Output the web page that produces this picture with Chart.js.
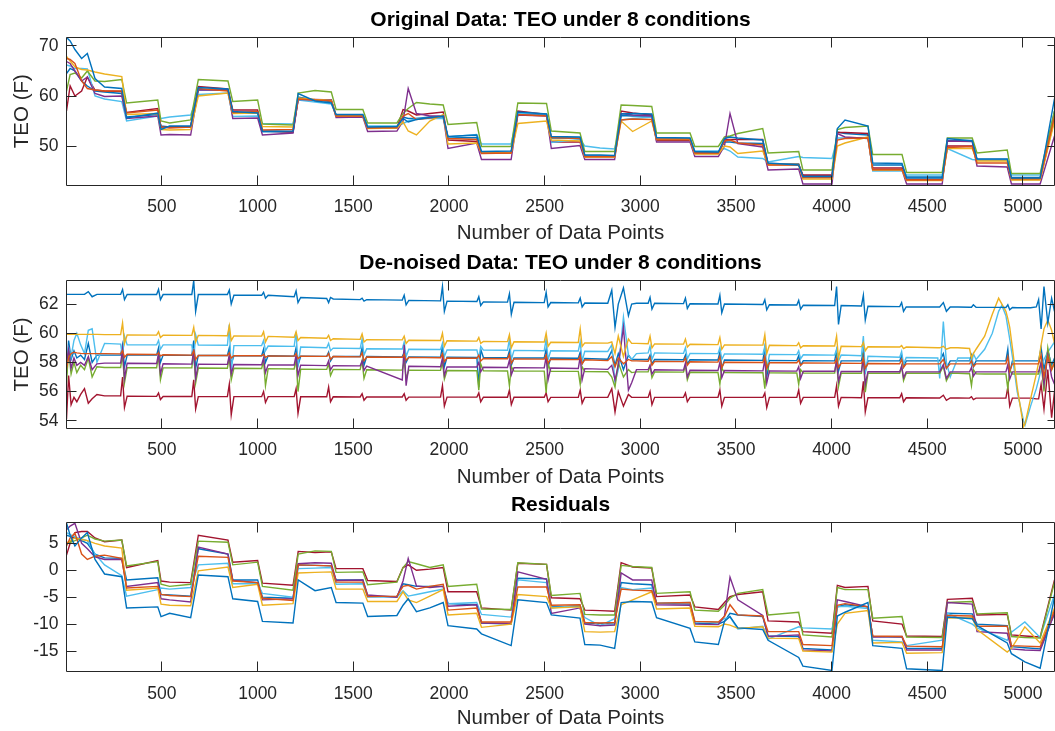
<!DOCTYPE html>
<html>
<head>
<meta charset="utf-8">
<script src="https://cdn.jsdelivr.net/npm/chart.js@4.4.1/dist/chart.umd.min.js"></script>
<style>
  body { margin: 0; background: #fff; width: 1055px; height: 731px; overflow: hidden; }
  canvas { position: absolute; left: 0; }
</style>
</head>
<body>
<canvas id="origChart" width="1055" height="246" style="top:0"></canvas>
<canvas id="denChart" width="1055" height="244" style="top:246px"></canvas>
<canvas id="resChart" width="1055" height="241" style="top:490px"></canvas>
<script>
// Tick labels
const xTicks = [500, 1000, 1500, 2000, 2500, 3000, 3500, 4000, 4500, 5000];
const yTicksOrig = [50, 60, 70];
const yTicksDen = [54, 56, 58, 60, 62];
const yTicksRes = [-15, -10, -5, 0, 5];

// Sample positions (data point index) for the original data and residuals
const xOrig = [1, 20, 45, 80, 110, 150, 200, 290, 315, 478, 495, 540, 650, 690, 845, 870, 1000, 1025, 1185,
  1212, 1300, 1385, 1410, 1550, 1575, 1728, 1760, 1787, 1830, 1900, 1970, 1995, 2145, 2170, 2325, 2360, 2510,
  2535, 2685, 2710, 2790, 2866, 2900, 2960, 3060, 3085, 3260, 3285, 3408, 3440, 3469, 3510, 3640, 3668, 3828,
  3850, 4002, 4030, 4070, 4190, 4215, 4368, 4392, 4578, 4605, 4735, 4760, 4918, 4940, 5010, 5090, 5165];

// Original data, 8 conditions
const origBlue = [71.7, 71.0, 69.3, 67.5, 68.5, 63.5, 61.8, 61.5, 55.6, 56.6, 53.3, 54.0, 54.0, 61.7, 61.4, 56.9, 56.6,
  52.9, 53.0, 60.5, 59.0, 58.6, 56.3, 56.3, 53.8, 53.9, 55.5, 54.8, 55.3, 55.7, 56.0, 51.9, 52.2, 48.9, 49.0, 56.8, 56.4,
  51.9, 51.8, 48.2, 48.2, 48.1, 56.4, 56.5, 56.4, 51.7, 51.6, 48.9, 48.8, 51.5, 51.8, 51.6, 51.2, 46.6, 46.2, 43.9, 43.9,
  53.5, 55.2, 54.0, 46.6, 46.5, 43.6, 43.6, 51.5, 51.0, 47.4, 47.4, 43.6, 43.6, 43.6, 59.5];
const origOrange = [67.5, 67.3, 66.5, 63.0, 61.5, 61.2, 61.0, 61.0, 56.6, 57.2, 53.8, 53.6, 53.8, 61.5, 61.0, 56.7, 56.9,
  53.2, 53.3, 59.4, 59.2, 59.0, 56.0, 56.0, 53.6, 53.7, 56.0, 56.5, 55.3, 55.6, 56.0, 51.5, 51.3, 48.5, 48.6, 56.3, 56.0,
  51.7, 51.5, 47.9, 47.9, 47.9, 55.2, 55.4, 55.3, 51.4, 51.4, 48.6, 48.6, 51.0, 51.2, 50.6, 50.2, 46.2, 46.2, 43.7, 43.7,
  51.2, 51.5, 51.6, 45.3, 45.3, 43.2, 43.2, 49.7, 49.9, 46.6, 46.6, 43.5, 43.5, 43.5, 56.0];
const origYellow = [67.9, 67.0, 65.8, 65.3, 65.2, 64.8, 64.4, 63.9, 56.3, 56.5, 53.3, 53.2, 53.3, 60.0, 60.6, 56.5, 56.6,
  53.9, 53.8, 59.6, 59.3, 59.1, 56.0, 56.0, 53.5, 53.6, 54.8, 53.0, 52.2, 55.0, 56.3, 50.4, 50.6, 48.6, 48.6, 54.5, 55.0,
  51.2, 51.0, 47.8, 47.8, 47.8, 55.0, 52.9, 55.0, 51.3, 51.3, 48.4, 48.4, 50.0, 49.8, 48.5, 49.0, 46.3, 46.3, 43.4, 43.4,
  50.0, 50.6, 51.8, 45.2, 45.2, 43.1, 43.1, 49.5, 49.5, 47.0, 47.0, 43.2, 43.2, 43.2, 55.0];
const origPurple = [66.9, 66.5, 65.0, 63.0, 63.8, 60.5, 59.9, 60.0, 55.5, 56.0, 52.2, 52.3, 52.2, 61.2, 61.2, 55.5, 55.6,
  52.2, 52.6, 59.3, 59.3, 59.2, 55.7, 55.8, 52.9, 53.0, 55.0, 61.5, 56.5, 56.0, 56.0, 49.5, 50.6, 47.3, 47.3, 56.2, 56.0,
  49.5, 50.1, 47.3, 47.3, 47.3, 56.5, 56.2, 56.0, 50.8, 50.8, 47.9, 47.9, 50.0, 56.5, 50.5, 49.8, 45.2, 45.4, 42.4, 42.4,
  52.5, 51.8, 51.5, 45.2, 45.2, 42.4, 42.4, 51.0, 50.9, 46.0, 45.8, 42.4, 42.4, 42.4, 52.0];
const origGreen = [61.0, 64.3, 64.6, 63.6, 65.0, 63.0, 62.9, 63.3, 58.6, 59.2, 55.0, 54.6, 55.2, 63.3, 63.0, 58.9, 59.2,
  54.4, 54.2, 60.6, 61.1, 60.8, 57.3, 57.3, 54.6, 54.6, 56.5, 57.5, 58.7, 58.4, 58.2, 54.3, 54.7, 49.9, 49.9, 58.6, 58.5,
  53.0, 52.6, 48.9, 48.9, 48.9, 58.2, 58.1, 57.9, 52.6, 52.6, 49.9, 49.9, 51.8, 52.0, 52.5, 53.5, 48.6, 48.9, 45.2, 45.2,
  53.3, 53.7, 54.0, 48.3, 48.3, 44.7, 44.7, 51.6, 51.6, 48.6, 49.2, 44.5, 44.5, 44.5, 57.0];
const origCyan = [66.2, 66.0, 65.5, 65.5, 65.4, 60.0, 59.4, 58.9, 55.0, 56.0, 55.5, 55.8, 56.2, 60.3, 60.6, 55.9, 56.0,
  54.5, 54.4, 59.2, 58.8, 58.4, 56.2, 56.2, 54.0, 54.0, 54.5, 55.0, 55.5, 55.5, 55.5, 51.8, 52.3, 50.4, 50.4, 56.6, 56.4,
  50.7, 51.3, 50.0, 49.6, 49.4, 55.2, 55.5, 55.8, 51.5, 51.5, 49.0, 49.0, 49.5, 49.0, 47.8, 47.5, 46.8, 47.9, 47.7, 47.5,
  51.6, 51.6, 51.7, 45.0, 45.0, 44.2, 44.2, 49.5, 47.3, 47.2, 47.2, 44.2, 44.2, 44.2, 56.0];
const origRed = [57.0, 62.0, 60.0, 61.0, 63.8, 61.2, 61.0, 60.9, 56.7, 57.5, 53.7, 53.8, 53.9, 61.9, 61.4, 57.2, 57.2,
  53.0, 52.8, 59.3, 59.2, 59.2, 56.1, 56.1, 53.6, 53.6, 57.3, 57.0, 56.2, 56.5, 56.8, 51.2, 50.9, 48.6, 48.6, 57.0, 56.3,
  50.8, 50.8, 47.8, 47.8, 47.8, 57.0, 56.6, 56.2, 51.1, 51.1, 48.5, 48.5, 51.2, 51.3, 51.3, 51.3, 46.3, 46.3, 44.2, 44.2,
  52.7, 52.7, 52.5, 45.6, 45.6, 43.3, 43.3, 50.0, 50.0, 47.2, 47.2, 43.3, 43.3, 43.3, 55.5];
const origBlue2 = [64.5, 65.5, 65.0, 63.0, 62.0, 61.0, 60.8, 60.5, 55.8, 56.3, 54.0, 53.8, 53.8, 61.3, 61.2, 56.6, 56.8,
  52.9, 52.8, 59.8, 59.2, 58.9, 56.1, 56.1, 53.7, 53.7, 55.8, 55.5, 55.5, 55.8, 55.8, 51.6, 51.7, 48.7, 48.7, 56.5, 56.3,
  51.6, 51.6, 48.0, 48.0, 48.0, 56.1, 56.0, 56.0, 51.5, 51.5, 48.7, 48.7, 50.8, 50.8, 50.6, 50.5, 46.4, 46.4, 44.0, 44.0,
  52.8, 52.5, 52.2, 46.2, 46.2, 43.8, 43.8, 51.1, 51.1, 47.3, 47.3, 43.7, 43.7, 43.7, 57.0];

// Sample positions for the de-noised data (around each ringing spike)
const xDen = [1, 12, 25, 40, 55, 75, 95, 115, 135, 160, 200,
  284, 294, 304, 318, 472, 482, 492, 506, 656, 666, 676, 690, 842, 852, 862, 876,
  1021, 1031, 1041, 1055, 1191, 1201, 1211, 1225, 1361, 1371, 1381, 1395, 1536, 1546, 1556, 1570,
  1756, 1766, 1776, 1790, 1956, 1966, 1976, 1990, 2146, 2156, 2166, 2180, 2306, 2316, 2326, 2340,
  2498, 2508, 2518, 2532, 2676, 2686, 2696, 2710,
  2830, 2851, 2868, 2885, 2912, 2938, 2955, 2980,
  3041, 3051, 3061, 3075, 3226, 3236, 3246, 3260, 3406, 3416, 3426, 3440, 3641, 3651, 3661, 3675,
  3818, 3828, 3838, 3852, 4016, 4026, 4036, 4050, 4156, 4166, 4176, 4190, 4356, 4366, 4376, 4390,
  4555, 4565, 4584, 4600, 4620, 4660, 4721, 4731, 4741, 4755, 4800, 4840, 4873, 4890,
  4911, 4921, 4931, 4945, 4970, 5003, 5011, 5040, 5070, 5082, 5095, 5110, 5130, 5150, 5165];

const denBlue = [62.66, 62.66, 62.66, 62.66, 62.66, 62.66, 62.66, 62.85, 62.5, 62.66, 62.66,
  62.66, 63.0, 62.3, 62.66, 62.65, 63.0, 62.3, 62.65, 62.65, 63.6, 61.5, 62.65, 62.65, 62.95, 62.0, 62.6,
  62.6, 62.8, 62.4, 62.6, 62.5, 62.9, 62.1, 62.45, 62.38, 62.1, 62.45, 62.35, 62.3, 62.4, 62.2, 62.3,
  62.27, 62.6, 61.95, 62.25, 62.22, 63.2, 61.5, 62.2, 62.17, 62.5, 61.9, 62.15, 62.13, 62.7, 61.3, 62.12,
  62.1, 62.8, 61.8, 62.1, 62.08, 62.4, 61.8, 62.07,
  62.05, 62.95, 60.4, 62.0, 63.1, 61.2, 62.0, 62.05,
  62.05, 62.45, 61.65, 62.05, 62.03, 62.4, 61.7, 62.02, 62.0, 62.6, 61.4, 62.0, 61.97, 62.3, 61.6, 61.95,
  61.93, 62.25, 61.65, 61.92, 61.9, 63.2, 60.6, 61.9, 61.87, 62.6, 60.9, 61.85, 61.82, 62.1, 61.5, 61.8,
  61.8, 61.8, 62.1, 61.5, 61.8, 61.8, 61.78, 61.78, 61.95, 61.78, 61.77, 61.77, 61.77, 61.77,
  61.76, 61.95, 61.6, 61.76, 61.75, 61.75, 61.75, 61.75, 61.8, 62.3, 60.3, 63.2, 60.7, 62.4, 61.5];
const denOrange = [57.6, 58.3, 58.6, 58.7, 58.65, 58.62, 58.6, 58.6, 58.6, 58.6, 58.6,
  58.58, 58.8, 58.35, 58.56, 58.54, 58.65, 58.45, 58.52, 58.5, 58.8, 58.2, 58.48, 58.47, 58.65, 58.3, 58.46,
  58.45, 58.55, 58.35, 58.44, 58.43, 58.6, 58.25, 58.42, 58.41, 58.6, 58.2, 58.4, 58.38, 58.65, 58.1, 58.37,
  58.35, 58.55, 58.15, 58.34, 58.32, 58.6, 58.05, 58.3, 58.28, 58.5, 58.1, 58.27, 58.25, 58.55, 57.95, 58.24,
  58.22, 58.5, 57.95, 58.21, 58.19, 58.45, 57.9, 58.18,
  58.12, 58.4, 57.7, 58.3, 57.9, 58.2, 58.1, 58.1,
  58.08, 58.35, 57.8, 58.07, 58.05, 58.3, 57.8, 58.04, 58.02, 58.4, 57.65, 58.01, 57.99, 58.4, 57.6, 57.98,
  57.97, 58.15, 57.8, 57.96, 57.95, 58.25, 57.65, 57.94, 57.93, 58.25, 57.6, 57.92, 57.91, 58.2, 57.65, 57.9,
  57.9, 57.9, 58.2, 57.6, 57.9, 57.9, 57.9, 58.1, 57.7, 57.9, 57.9, 57.9, 57.9, 57.9,
  57.9, 58.4, 57.4, 57.9, 57.9, 57.9, 57.9, 57.9, 57.9, 57.9, 58.5, 57.0, 58.4, 57.5, 58.0];
const denYellow = [59.92, 59.92, 59.92, 59.92, 59.92, 59.92, 59.92, 59.92, 59.92, 59.92, 59.9,
  59.9, 60.7, 59.3, 59.88, 59.87, 60.1, 59.7, 59.86, 59.85, 60.4, 59.4, 59.85, 59.83, 60.5, 59.5, 59.82,
  59.8, 60.1, 59.4, 59.78, 59.72, 60.1, 59.5, 59.7, 59.65, 59.85, 59.5, 59.62, 59.58, 59.95, 59.4, 59.56,
  59.54, 59.8, 59.3, 59.52, 59.5, 60.0, 59.1, 59.48, 59.46, 59.7, 59.3, 59.44, 59.42, 59.9, 59.0, 59.41,
  59.4, 60.0, 59.1, 59.38, 59.36, 60.3, 59.1, 59.34,
  59.32, 59.4, 58.6, 59.8, 58.4, 59.6, 59.3, 59.3,
  59.28, 59.8, 59.0, 59.27, 59.25, 59.6, 59.05, 59.24, 59.22, 59.7, 58.9, 59.2, 59.18, 59.9, 58.6, 59.17,
  59.15, 59.35, 59.0, 59.14, 59.12, 59.8, 58.3, 59.1, 59.08, 59.35, 58.8, 59.07, 59.05, 59.15, 58.95, 59.05,
  59.0, 59.0, 59.1, 58.9, 59.0, 59.0, 58.95, 58.3, 58.6, 58.9, 59.8, 61.3, 62.4, 62.0,
  61.5, 61.0, 60.4, 59.0, 56.3, 53.6, 53.8, 55.5, 57.2, 58.0, 59.2, 60.3, 60.9, 60.2, 59.3];
const denPurple = [58.0, 58.9, 57.6, 58.3, 57.8, 58.0, 57.8, 58.4, 57.5, 57.9, 57.95,
  57.95, 58.9, 56.9, 57.94, 57.92, 58.6, 57.2, 57.91, 57.88, 58.9, 56.9, 57.87, 57.86, 58.5, 57.2, 57.85,
  57.84, 58.3, 57.3, 57.83, 57.82, 58.5, 57.1, 57.81, 57.78, 58.1, 57.5, 57.77, 57.76, 58.1, 57.45, 57.75,
  56.8, 59.2, 56.4, 57.73, 57.7, 58.3, 57.1, 57.69, 57.68, 58.0, 57.35, 57.67, 57.65, 58.15, 57.15, 57.64,
  57.62, 58.4, 56.8, 57.61, 57.58, 58.4, 56.8, 57.57,
  57.52, 57.8, 56.8, 57.8, 60.4, 56.1, 56.6, 57.5,
  57.5, 57.8, 57.2, 57.49, 57.47, 57.95, 57.0, 57.46, 57.44, 58.0, 56.95, 57.44, 57.42, 58.2, 56.6, 57.41,
  57.4, 57.7, 56.9, 57.4, 57.39, 58.1, 56.7, 57.38, 57.37, 58.3, 56.5, 57.36, 57.36, 57.75, 56.95, 57.35,
  57.35, 57.35, 57.85, 56.9, 57.35, 57.35, 57.35, 57.65, 57.05, 57.35, 57.35, 57.35, 57.35, 57.35,
  57.35, 57.85, 56.85, 57.35, 57.35, 57.35, 57.35, 57.35, 57.35, 57.35, 58.0, 56.5, 58.5, 57.0, 56.5];
const denGreen = [56.6, 58.8, 57.2, 58.0, 57.3, 57.8, 57.5, 58.3, 57.0, 57.7, 57.65,
  57.65, 58.6, 56.6, 57.64, 57.63, 58.5, 56.8, 57.62, 57.62, 58.8, 56.6, 57.61, 57.6, 58.4, 56.8, 57.6,
  57.58, 58.1, 56.4, 57.57, 57.55, 58.2, 56.0, 57.54, 57.52, 57.9, 57.1, 57.51, 57.5, 58.1, 56.9, 57.49,
  57.47, 58.1, 56.9, 57.46, 57.45, 58.05, 56.85, 57.44, 57.43, 56.1, 57.9, 57.42, 57.41, 56.4, 57.7, 57.4,
  57.4, 55.9, 57.9, 57.39, 57.38, 56.5, 57.7, 57.37,
  57.36, 57.0, 56.3, 58.0, 57.0, 57.5, 57.3, 57.35,
  57.35, 57.75, 56.95, 57.34, 57.33, 57.8, 56.8, 57.32, 57.31, 56.5, 57.6, 57.3, 57.29, 56.2, 57.9, 57.28,
  57.27, 56.5, 57.5, 57.27, 57.26, 58.2, 56.35, 57.26, 57.25, 58.65, 55.95, 57.25, 57.25, 57.75, 56.75, 57.25,
  57.25, 57.25, 57.75, 56.75, 57.25, 57.25, 57.22, 56.4, 57.5, 57.22, 57.2, 57.2, 57.2, 57.2,
  57.2, 56.2, 57.5, 57.2, 57.2, 57.2, 57.2, 57.2, 57.2, 57.2, 58.0, 56.0, 59.0, 57.5, 58.0];
const denCyan = [58.3, 59.0, 58.4, 59.5, 60.0, 59.2, 58.6, 60.2, 60.3, 58.0, 59.3,
  59.25, 58.4, 59.8, 59.2, 59.2, 59.5, 58.9, 59.2, 59.2, 58.2, 59.9, 59.18, 59.17, 60.6, 57.3, 59.15,
  59.15, 59.5, 58.8, 59.12, 59.1, 60.1, 57.8, 59.05, 59.0, 59.3, 58.8, 58.98, 58.95, 59.6, 58.5, 58.93,
  58.92, 59.4, 58.4, 58.9, 58.88, 59.3, 58.4, 58.86, 58.85, 58.3, 59.1, 58.84, 58.83, 59.6, 58.2, 58.82,
  58.8, 59.6, 58.2, 58.8, 58.78, 59.4, 58.1, 58.76,
  58.75, 59.2, 56.6, 57.5, 61.1, 58.5, 58.2, 58.6,
  58.65, 59.1, 58.2, 58.65, 58.62, 59.0, 58.25, 58.62, 58.6, 59.0, 58.2, 58.58, 58.56, 59.1, 57.5, 58.55,
  58.53, 58.8, 58.25, 58.52, 58.5, 58.9, 58.1, 58.5, 58.45, 59.8, 57.2, 58.42, 58.35, 58.75, 57.85, 58.33,
  58.3, 56.9, 60.8, 58.0, 57.0, 58.3, 58.3, 57.8, 58.6, 58.2, 58.9, 60.0, 61.5, 61.9,
  61.2, 60.4, 59.6, 58.4, 56.0, 54.0, 53.7, 55.0, 56.2, 56.8, 57.5, 58.2, 58.7, 59.1, 59.4];
const denRed = [54.1, 57.1, 55.1, 55.6, 55.3, 55.8, 56.2, 55.2, 55.5, 55.8, 55.7,
  55.7, 57.0, 54.9, 55.68, 55.67, 55.9, 55.45, 55.66, 55.66, 56.8, 54.8, 55.65, 55.65, 56.5, 54.4, 55.65,
  55.65, 56.0, 55.25, 55.65, 55.65, 56.2, 54.5, 55.64, 55.64, 56.3, 55.3, 55.64, 55.63, 55.85, 55.4, 55.63,
  55.63, 55.85, 55.4, 55.62, 55.62, 56.4, 55.0, 55.62, 55.62, 55.9, 55.3, 55.61, 55.61, 56.1, 55.1, 55.61,
  55.61, 55.9, 55.3, 55.6, 55.6, 56.1, 55.2, 55.6,
  55.6, 56.2, 54.6, 56.0, 55.0, 55.8, 55.6, 55.6,
  55.6, 56.0, 55.1, 55.6, 55.6, 55.9, 55.3, 55.6, 55.6, 56.1, 55.0, 55.6, 55.6, 55.9, 54.9, 55.6,
  55.6, 56.1, 55.2, 55.6, 55.6, 56.4, 55.0, 55.6, 55.58, 56.7, 54.6, 55.58, 55.57, 55.85, 55.3, 55.57,
  55.56, 55.56, 55.75, 55.4, 55.56, 55.56, 55.55, 55.65, 55.45, 55.55, 55.55, 55.55, 55.55, 55.55,
  55.55, 56.3, 55.0, 55.55, 55.55, 55.55, 55.55, 55.55, 55.5, 55.5, 56.5, 54.8, 57.5, 54.2, 56.0];
const denBlue2 = [57.2, 59.5, 58.2, 58.8, 58.3, 58.5, 58.2, 59.3, 58.0, 58.5, 58.5,
  58.5, 59.2, 57.7, 58.5, 58.5, 59.0, 58.0, 58.5, 58.48, 59.5, 57.6, 58.48, 58.47, 59.0, 57.9, 58.46,
  58.45, 58.9, 58.0, 58.45, 58.43, 59.0, 57.8, 58.42, 58.41, 58.7, 58.1, 58.4, 58.4, 59.0, 57.8, 58.4,
  58.38, 58.7, 58.0, 58.37, 58.36, 59.1, 57.7, 58.35, 58.34, 56.3, 58.9, 58.33, 58.32, 58.8, 57.8, 58.31,
  58.3, 58.9, 57.7, 58.3, 58.28, 58.7, 57.9, 58.27,
  58.22, 58.8, 57.8, 58.6, 57.5, 58.5, 58.2, 58.2,
  58.2, 58.5, 57.9, 58.2, 58.18, 58.5, 57.9, 58.18, 58.16, 58.7, 57.6, 58.16, 58.14, 59.0, 57.0, 58.13,
  58.12, 58.45, 57.8, 58.12, 58.1, 58.8, 57.4, 58.1, 58.1, 58.8, 57.4, 58.1, 58.1, 58.5, 57.7, 58.1,
  58.1, 58.1, 58.6, 57.6, 58.1, 58.1, 58.1, 58.5, 57.7, 58.1, 58.1, 58.1, 58.1, 58.1,
  58.1, 58.9, 57.3, 58.1, 58.1, 58.1, 58.1, 58.1, 58.1, 58.1, 59.0, 57.5, 58.8, 57.8, 58.3];

// Residuals (same sample positions as the original data)
const resBlue = [8.8, 6.5, 4.5, 6.0, 7.0, 2.0, -0.7, -1.2, -7.0, -6.8, -8.6, -8.0, -8.8, -0.9, -1.2, -5.3, -5.8,
  -9.5, -9.8, -1.8, -3.8, -3.2, -6.0, -6.1, -8.6, -8.4, -6.5, -5.3, -7.7, -7.0, -6.0, -10.3, -10.9, -11.8, -14.0, -5.5, -6.0,
  -8.3, -8.9, -13.8, -13.9, -14.5, -6.0, -5.8, -5.9, -8.8, -10.8, -13.3, -13.8, -9.5, -8.6, -10.7, -11.0, -13.0, -16.2,
  -17.8, -18.6, -8.5, -7.8, -6.0, -14.0, -14.5, -18.3, -18.6, -8.7, -9.0, -10.3, -13.5, -15.5, -17.0, -18.2, -5.0];
const resOrange = [4.5, 6.0, 6.9, 3.0, 2.0, 2.6, 2.8, 2.2, -3.3, -3.0, -4.5, -4.7, -4.9, 2.6, 2.4, -2.0, -2.3,
  -5.2, -5.6, 1.0, 0.9, 0.8, -2.2, -2.2, -4.9, -4.8, -3.0, -2.8, -3.5, -3.0, -2.6, -7.4, -7.0, -9.6, -9.6, -3.1, -3.1,
  -6.5, -6.4, -9.7, -9.8, -9.7, -3.5, -3.7, -3.8, -6.1, -6.0, -9.5, -9.6, -8.6, -6.4, -8.3, -8.5, -11.4, -11.4,
  -13.8, -14.0, -6.5, -6.2, -6.8, -12.2, -12.3, -14.1, -14.2, -8.4, -8.5, -10.4, -10.4, -14.0, -14.1, -14.2, -7.5];
const resYellow = [5.0, 5.5, 6.0, 5.7, 5.5, 5.0, 4.5, 4.1, -3.7, -3.3, -6.3, -6.5, -6.6, -0.1, 0.6, -3.2, -2.6,
  -6.5, -6.2, -0.5, -0.4, -0.3, -3.5, -3.5, -5.8, -5.8, -4.0, -5.5, -6.0, -4.8, -3.6, -8.3, -8.0, -10.6, -10.0, -4.5, -4.9,
  -7.0, -6.8, -11.4, -11.5, -11.4, -6.4, -5.5, -4.0, -7.2, -7.0, -10.4, -10.5, -10.0, -10.2, -10.8, -10.5, -12.6, -12.7,
  -15.0, -15.2, -10.0, -8.0, -7.5, -13.5, -13.4, -15.4, -15.3, -8.9, -8.8, -11.0, -15.2, -14.5, -10.5, -13.5, -7.0];
const resPurple = [7.5, 8.2, 8.7, 5.0, 4.0, 2.5, 2.0, 2.0, -3.0, -2.3, -5.3, -5.5, -5.9, 4.3, 3.0, -1.9, -2.3,
  -5.5, -5.3, 1.2, 1.4, 1.3, -1.9, -1.8, -4.6, -5.0, -2.0, 2.2, -2.9, -3.2, -3.0, -6.7, -6.4, -9.8, -9.9, -0.3, -1.7,
  -8.0, -7.0, -10.0, -10.3, -10.2, -0.5, -1.8, -1.8, -6.4, -6.5, -10.0, -10.1, -8.5, -1.3, -5.5, -8.4, -12.3, -12.0,
  -14.8, -15.0, -5.5, -5.8, -6.8, -12.4, -12.3, -14.8, -14.8, -6.0, -6.3, -11.4, -11.7, -14.6, -14.8, -14.9, -8.0];
const resGreen = [4.8, 5.2, 5.5, 6.0, 6.5, 5.8, 5.4, 5.6, 0.8, 1.6, -2.6, -3.0, -2.6, 5.4, 5.2, 1.0, 1.5,
  -3.0, -3.7, 3.0, 3.6, 3.5, -0.4, -0.3, -2.7, -2.2, 0.5, 1.6, 1.2, 0.5, 1.0, -3.0, -2.6, -7.2, -7.3, 1.4, 1.1,
  -4.7, -4.3, -8.2, -8.3, -8.3, 0.9, 0.7, 0.5, -4.3, -4.0, -7.4, -7.6, -6.5, -5.2, -4.3, -3.6, -8.3, -7.8,
  -12.0, -12.4, -3.2, -3.6, -3.6, -8.9, -8.6, -12.4, -12.5, -6.0, -5.8, -8.1, -7.9, -12.3, -12.5, -12.6, -2.2];
const resCyan = [7.0, 6.6, 6.2, 5.8, 5.5, 3.0, 1.0, -1.0, -4.8, -3.6, -3.3, -3.5, -3.2, 1.0, 1.3, -2.5, -2.5,
  -4.3, -5.0, 0.3, 0.4, 0.5, -2.6, -2.5, -5.0, -5.0, -3.8, -4.8, -4.5, -4.0, -3.5, -6.2, -6.0, -8.2, -8.7, -1.8, -2.3,
  -7.0, -6.5, -8.8, -10.3, -9.0, -3.2, -3.6, -3.3, -6.1, -6.0, -9.5, -9.7, -9.0, -8.7, -10.9, -10.4, -12.8, -10.5,
  -10.7, -10.9, -6.8, -6.7, -7.1, -13.0, -13.3, -14.0, -13.0, -8.0, -10.0, -10.7, -13.0, -11.5, -9.6, -12.5, -4.5];
const resRed = [2.8, 5.0, 7.0, 7.2, 7.2, 6.0, 5.3, 5.6, 0.5, 1.8, -2.0, -2.2, -2.3, 6.5, 5.6, 1.5, 1.8,
  -2.4, -2.8, 3.5, 3.3, 3.4, 0.3, 0.3, -1.9, -2.1, 0.5, 1.0, 0.0, 0.2, 0.5, -4.0, -4.0, -7.0, -7.4, 1.3, 1.1,
  -5.1, -5.3, -7.4, -7.5, -7.6, 1.4, 0.6, 0.4, -4.9, -4.6, -6.8, -7.3, -6.0, -4.9, -4.5, -4.0, -9.4, -9.6,
  -11.4, -11.7, -2.8, -3.2, -3.0, -9.4, -10.0, -12.2, -12.3, -5.4, -5.2, -8.3, -8.2, -12.0, -12.2, -12.4, -1.8];
const resBlue2 = [6.5, 6.3, 6.0, 5.5, 5.0, 3.0, 2.3, 2.2, -1.8, -1.4, -4.5, -4.6, -4.8, 4.0, 3.0, -1.8, -1.8,
  -5.0, -5.2, 1.0, 0.9, 0.8, -1.8, -1.8, -4.8, -4.9, -2.5, -2.7, -3.0, -3.0, -3.0, -6.2, -6.4, -9.8, -10.0, -1.5, -1.6,
  -6.8, -6.7, -9.8, -9.9, -10.0, -2.3, -2.5, -2.7, -6.1, -6.3, -9.8, -10.0, -9.5, -8.0, -8.3, -8.6, -12.2, -12.3,
  -14.5, -14.8, -6.8, -6.4, -6.8, -12.3, -12.4, -14.5, -14.5, -8.0, -8.1, -10.0, -10.3, -14.2, -14.4, -14.6, -8.0];

const colors = ['#0072BD', '#D95319', '#EDB120', '#7E2F8E', '#77AC30', '#4DBEEE', '#A2142F', '#0072BD'];
const axisColor = '#262626';

Chart.defaults.font.family = '"Liberation Sans", Arial, Helvetica, sans-serif';

// box around the axes with inward ticks, like MATLAB
const axesBox = {
  id: 'axesBox',
  afterDraw(chart) {
    const { ctx, chartArea: a, scales: { x, y } } = chart;
    const crisp = v => Math.floor(v) + 0.5;
    const L = crisp(a.left), R = crisp(a.right), T = crisp(a.top), B = crisp(a.bottom);
    ctx.save();
    ctx.strokeStyle = axisColor;
    ctx.lineWidth = 1;
    ctx.beginPath();
    ctx.rect(L, T, R - L, B - T);
    x.ticks.forEach(t => {
      const px = crisp(x.getPixelForValue(t.value));
      ctx.moveTo(px, B); ctx.lineTo(px, B - 10);
      ctx.moveTo(px, T); ctx.lineTo(px, T + 10);
    });
    y.ticks.forEach(t => {
      const py = crisp(y.getPixelForValue(t.value));
      ctx.moveTo(L, py); ctx.lineTo(L + 10, py);
      ctx.moveTo(R, py); ctx.lineTo(R - 7, py);
    });
    ctx.stroke();
    ctx.restore();
  }
};

function makeChart(id, cfg) {
  return new Chart(document.getElementById(id), {
    type: 'line',
    data: {
      datasets: cfg.series.map((ys, i) => ({
        data: cfg.xs.map((x, k) => ({ x, y: ys[k] })),
        borderColor: colors[i],
        borderWidth: 1.4,
        pointRadius: 0,
        tension: 0,
        fill: false,
      })),
    },
    options: {
      responsive: false,
      animation: false,
      events: [],
      layout: { padding: { left: 0, right: 0.5, top: 0, bottom: 0 } },
      plugins: {
        legend: { display: false },
        tooltip: { enabled: false },
        title: {
          display: true,
          text: cfg.title,
          fullSize: false,
          color: '#000',
          font: { size: 21, weight: 'bold' },
          padding: { top: cfg.titleTop, bottom: 4.4 },
        },
      },
      scales: {
        x: {
          type: 'linear',
          min: 1,
          max: 5165,
          afterBuildTicks: s => { s.ticks = xTicks.map(v => ({ value: v })); },
          afterFit: s => { s.height = cfg.xHeight; },
          grid: { display: false, drawTicks: false },
          border: { display: false },
          ticks: { color: axisColor, font: { size: 17.5 }, padding: 11.5, maxRotation: 0, autoSkip: false, callback: v => String(v) },
          title: { display: true, text: 'Number of Data Points', color: axisColor, font: { size: 20.5 }, padding: { top: 0, bottom: 0.2 } },
        },
        y: {
          type: 'linear',
          min: cfg.yMin,
          max: cfg.yMax,
          afterBuildTicks: s => { s.ticks = cfg.yTicks.map(v => ({ value: v })); },
          afterFit: s => { s.width = 66.5; },
          grid: { display: false, drawTicks: false },
          border: { display: false },
          ticks: { color: axisColor, font: { size: 17.5 }, padding: 8, callback: v => String(v) },
          title: { display: !!cfg.yLabel, text: cfg.yLabel, color: axisColor, font: { size: 20.5 }, padding: { top: 10.2, bottom: 0 } },
        },
      },
    },
    plugins: [axesBox],
  });
}

makeChart('origChart', {
  xs: xOrig,
  series: [origBlue, origOrange, origYellow, origPurple, origGreen, origCyan, origRed, origBlue2],
  title: 'Original Data: TEO under 8 conditions',
  titleTop: 7.7, xHeight: 61,
  yMin: 42.2, yMax: 71.74, yTicks: yTicksOrig, yLabel: 'TEO (F)',
});

makeChart('denChart', {
  xs: xDen,
  series: [denBlue, denOrange, denYellow, denPurple, denGreen, denCyan, denRed, denBlue2],
  title: 'De-noised Data: TEO under 8 conditions',
  titleTop: 5.1, xHeight: 61.7,
  yMin: 53.48, yMax: 63.6, yTicks: yTicksDen, yLabel: 'TEO (F)',
});

makeChart('resChart', {
  xs: xOrig,
  series: [resBlue, resOrange, resYellow, resPurple, resGreen, resCyan, resRed, resBlue2],
  title: 'Residuals',
  titleTop: 2.7, xHeight: 59.3,
  yMin: -18.84, yMax: 8.9, yTicks: yTicksRes, yLabel: '',
});
</script>
</body>
</html>
